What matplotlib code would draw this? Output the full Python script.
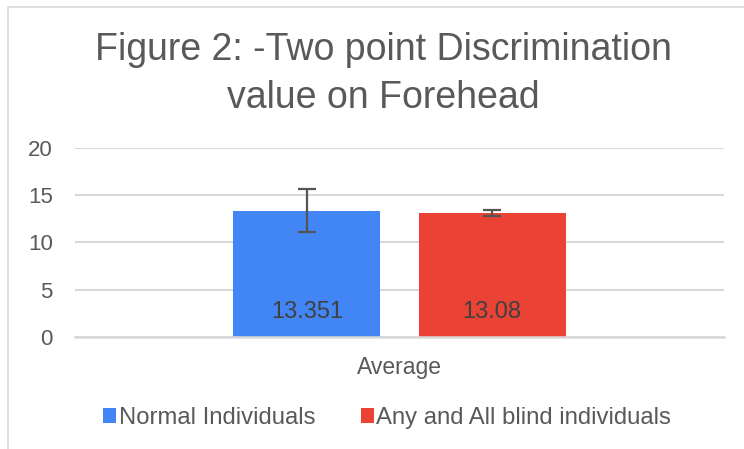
import matplotlib.pyplot as plt
from matplotlib.patches import Rectangle

plt.rcParams['font.family'] = ['Liberation Sans', 'DejaVu Sans']

category = ["Average"]
series = ["Normal Individuals", "Any and All blind individuals"]
values = [13.351, 13.08]
errors = [2.3, 0.3]
labels = ["13.351", "13.08"]
colors = ["#4285F4", "#EA4335"]

text_color = "#595959"
grid_color = "#d9d9d9"

fig = plt.figure(figsize=(7.44, 4.49), dpi=100)
ax = fig.add_axes([75 / 744, 1 - 337 / 449, 649 / 744, (337 - 147.7) / 449])

width = 0.2265
offsets = [-0.1426, 0.1426]
for name, v, e, lab, c, off in zip(series, values, errors, labels, colors, offsets):
    ax.bar(off, v, width, color=c, label=name, zorder=2)
    ax.errorbar(off, v, yerr=e, fmt='none', ecolor="#555555", elinewidth=1.6,
                capsize=6.5, capthick=1.6, zorder=3)
    ax.annotate(lab, xy=(off, 0), xytext=(0, 25), textcoords='offset pixels',
                ha='center', va='center', fontsize=17, color="#404040", zorder=4)

ax.set_xlim(-0.5, 0.5)
ax.set_ylim(0, 20)
ax.set_yticks([0, 5, 10, 15, 20])
ax.set_xticks([0])
ax.set_xticklabels(category)
ax.tick_params(axis='both', length=0, labelsize=16, labelcolor=text_color)
ax.tick_params(axis='y', pad=16)
ax.tick_params(axis='x', pad=14, labelsize=16.5)
ax.grid(axis='y', color=grid_color, linewidth=1.5, zorder=0)
ax.set_axisbelow(True)
for s in ['top', 'right', 'left']:
    ax.spines[s].set_visible(False)
ax.spines['bottom'].set_color(grid_color)
ax.spines['bottom'].set_linewidth(1.8)

fig.text(383 / 744, 1 - 74 / 449, "Figure 2: -Two point Discrimination\nvalue on Forehead",
         ha='center', va='center', fontsize=27, color=text_color, linespacing=1.4)

fig.legend(loc='center', bbox_to_anchor=(387 / 744, 1 - 418 / 449), ncol=2, frameon=False,
           fontsize=17.2, handlelength=0.55, handleheight=0.55, handletextpad=0.1,
           columnspacing=1.9, labelcolor=text_color)

fig.patches.append(Rectangle((8 / 744, -0.1), 1.2, 1.1 - 7 / 449, transform=fig.transFigure,
                             fill=False, edgecolor=grid_color, linewidth=1.2))

fig.savefig("out.png", dpi=100)
